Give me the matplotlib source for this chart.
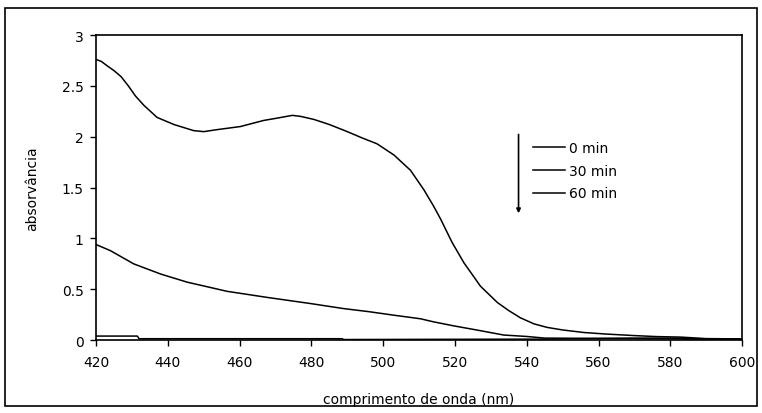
import matplotlib
matplotlib.use("Agg")
import matplotlib.pyplot as plt
from matplotlib.patches import Rectangle

plt.rcParams['font.family'] = ['DejaVu Sans']

# 0 min spectrum
wl_0 = [420, 421.5, 423, 425, 427, 429, 431, 433.3, 437, 441.7, 447.2, 450, 453.8,
        460.2, 466.7, 470, 474.7, 477, 480.7, 485, 490, 494, 498.3, 503, 507.6,
        511.3, 514, 516, 519.2, 522.5, 527.1, 531.8, 535, 538.2, 542, 545.7, 550,
        555.9, 562, 569.8, 576, 582.8, 590, 600]
abs_0 = [2.76, 2.74, 2.70, 2.65, 2.59, 2.50, 2.40, 2.31, 2.19, 2.12, 2.06, 2.05, 2.07,
         2.10, 2.16, 2.18, 2.21, 2.20, 2.17, 2.12, 2.05, 1.99, 1.93, 1.82, 1.67,
         1.48, 1.32, 1.19, 0.96, 0.76, 0.53, 0.37, 0.29, 0.22, 0.16, 0.125, 0.10,
         0.075, 0.06, 0.045, 0.035, 0.03, 0.015, 0.012]

# 30 min spectrum
wl_30 = [420, 424, 430.5, 438, 445.4, 456.5, 467.7, 479.7, 489, 496, 503, 510.4,
         514, 519.7, 526, 533.6, 540, 545, 570, 600]
abs_30 = [0.94, 0.88, 0.75, 0.65, 0.57, 0.48, 0.42, 0.36, 0.31, 0.28, 0.245, 0.21,
          0.18, 0.14, 0.10, 0.05, 0.036, 0.02, 0.015, 0.01]

# 60 min spectrum
wl_60 = [420, 431.5, 432, 488.6, 489, 545, 570, 583, 584, 600]
abs_60 = [0.04, 0.04, 0.014, 0.014, 0.006, 0.01, 0.02, 0.02, 0.012, 0.012]

labels = ['0 min', '30 min', '60 min']

fig = plt.figure(figsize=(7.62, 4.14), dpi=100)
ax = fig.add_axes([0.126, 0.176, 0.848, 0.737])

for wl, a, lab in zip([wl_0, wl_30, wl_60], [abs_0, abs_30, abs_60], labels):
    ax.plot(wl, a, color='black', lw=1.1, label=lab)

ax.set_xlim(420, 600)
ax.set_ylim(0, 3)
ax.set_xticks(range(420, 601, 20))
ax.set_yticks([0, 0.5, 1, 1.5, 2, 2.5, 3])
ax.set_yticklabels(['0', '0.5', '1', '1.5', '2', '2.5', '3'])
ax.tick_params(direction='out', length=4, width=1, labelsize=10, colors='black', pad=5)
ax.tick_params(axis='x', pad=7)
for s in ax.spines.values():
    s.set_linewidth(1.2)

ax.set_xlabel('comprimento de onda (nm)', fontsize=10, labelpad=16)
ax.set_ylabel('absorvância', fontsize=10, labelpad=16)

leg = ax.legend(loc='upper left', bbox_to_anchor=(0.667, 0.67), frameon=False,
                fontsize=10, handlelength=2.3, handletextpad=0.3,
                labelspacing=0.62, borderaxespad=0)

# arrow showing time direction
ax.annotate('', xy=(537.7, 1.22), xytext=(537.7, 2.05),
            arrowprops=dict(arrowstyle='-|>', color='black', lw=1.2,
                            mutation_scale=6))

# outer frame
fig.patches.append(Rectangle((0.0066, 0.017), 0.987, 0.961, transform=fig.transFigure,
                             fill=False, edgecolor='black', lw=1.2))

fig.savefig('out.png', dpi=100)
